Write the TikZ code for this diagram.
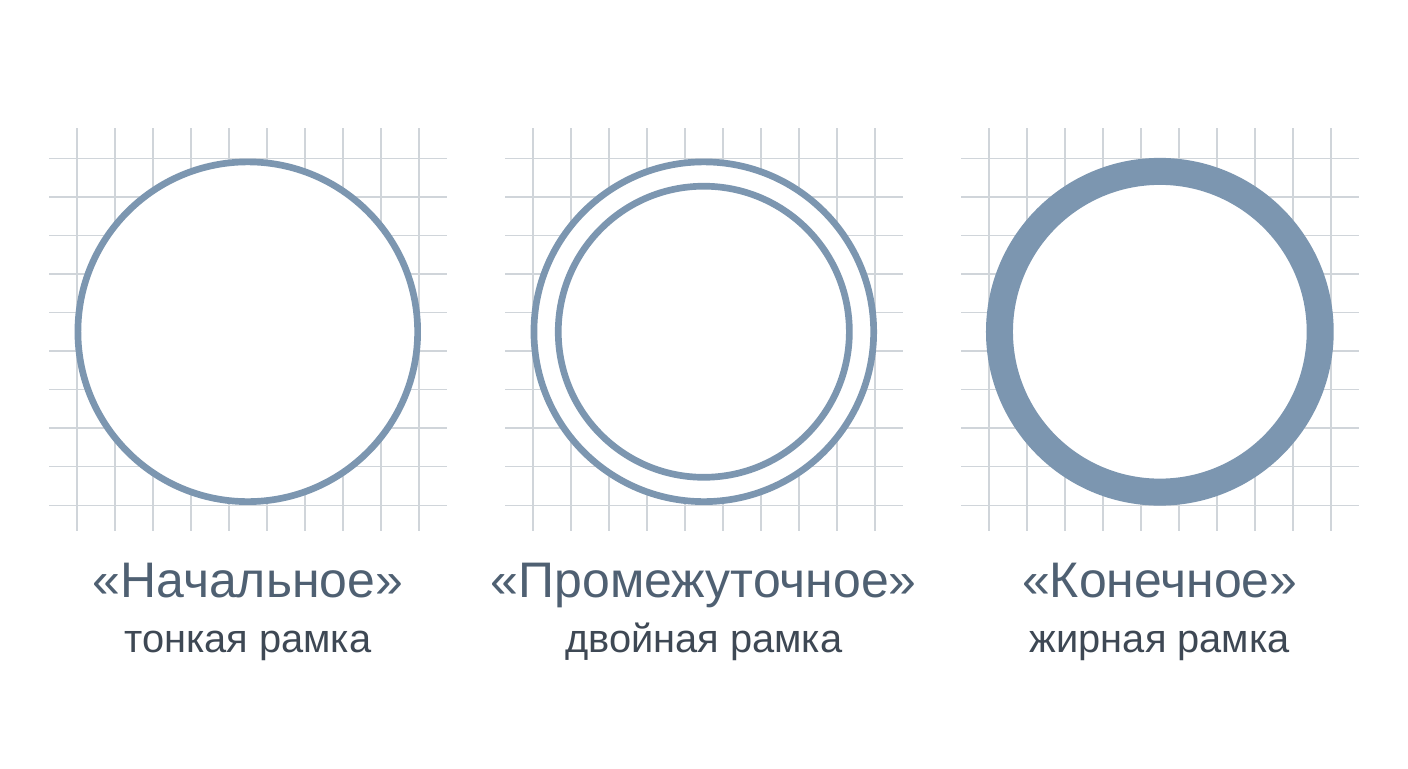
\documentclass[tikz,border=0pt]{standalone}
\usepackage{fontspec}
\setmainfont{Liberation Sans}
\definecolor{cadre}{HTML}{7C96B0}
\definecolor{couleurtitre}{HTML}{4F6072}
\definecolor{couleurlegende}{HTML}{3E4854}
\definecolor{grille}{HTML}{D0D5DA}
\tikzset{
  quadrillage/.style={grille, line width=1.1pt},
  cercle/.style={cadre, line width=5pt, fill=white},
  nom/.style={couleurtitre, anchor=base, inner sep=0pt, font=\fontsize{37.4}{40}\selectfont},
  sousnom/.style={couleurlegende, anchor=base, inner sep=0pt, font=\fontsize{29.8}{32}\selectfont},
}
\begin{document}
\begin{tikzpicture}
  \useasboundingbox[fill=white] (0,0) rectangle (37.05,20.21);
  \def\cy{11.48}
  % quadrillage sous chaque cercle
  \foreach \cx in {6.52,18.52,30.52}{
    \foreach \i in {-4.5,-3.5,...,4.5}{
      \draw [quadrillage] ({\cx+\i},{\cy-5.24}) -- ({\cx+\i},{\cy+5.35});
      \draw [quadrillage] ({\cx-5.23},{\cy+1.0145*\i}) -- ({\cx+5.23},{\cy+1.0145*\i});
    }
  }
  \draw [cercle] (6.52,\cy) circle (4.47);
  \draw [cercle] (18.52,\cy) circle (4.47);
  \draw [cercle] (18.52,\cy) circle (3.83);
  \draw [cercle, line width=0.71cm] (30.52,\cy) circle (4.22);%anneau epais
  \foreach \x/\id/\titre/\sous in {6.52/debut/«Начальное»/тонкая рамка,
      18.52/milieu/«Промежуточное»/двойная рамка,
      30.52/fin/«Конечное»/жирная рамка}{
    \node [nom] (nom\id) at (\x,4.5) {\titre};
    \node [sousnom] (leg\id) at (\x,3.03) {\sous};
  }
\end{tikzpicture}
\end{document}
